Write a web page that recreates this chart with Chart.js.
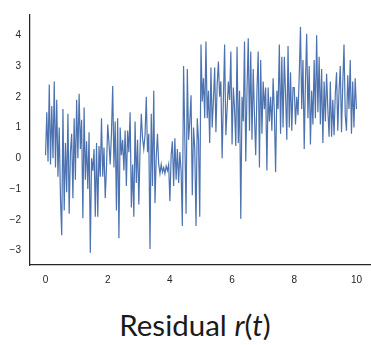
<!DOCTYPE html>
<html>
<head>
<meta charset="utf-8">
<script src="https://cdn.jsdelivr.net/npm/chart.js@4.4.1/dist/chart.umd.min.js"></script>
<style>
    html, body { margin: 0; padding: 0; background: #fff; }
    #wrap { position: relative; width: 371px; height: 345px; overflow: hidden; }
    #residualChart { position: absolute; left: 0; top: 0; }
    #caption {
        position: absolute; left: 45px; width: 300px; top: 308px;
        text-align: center; font-family: 'Lato', sans-serif; font-size: 29.5px;
        color: #1a1a1a; white-space: nowrap; line-height: 34px;
    }
    #caption i { font-style: italic; }
</style>
</head>
<body>
<div id="wrap">
    <canvas id="residualChart" width="371" height="290"></canvas>
    <div id="caption">Residual <i>r</i>(<i>t</i>)</div>
</div>
<script>
// sample spacing of the residual series (t runs from 0 to 10)
const tStep = 0.04;

// residual r(t), one row per unit of t
const residual = [
    0.1, 1.5, -0.1, 2.4, -0.2, 1.7, 0.0, 2.5, -0.3, 1.9, -0.6, 1.0, -1.3, -2.5, 1.6, -1.7, 0.5, -1.1, 1.45, -1.8, 0.2, 0.8, -1.3, 1.3, -0.7,
    1.9, 0.0, 2.1, 0.3, 1.25, -1.95, 1.65, -0.7, 0.55, -1.0, 0.85, -3.07, 0.0, -0.4, 0.3, -1.9, 0.5, -1.9, 0.4, -0.6, 1.3, -0.6, 0.35, -1.3, -0.3,
    1.1, 0.5, -0.2, 0.8, 2.35, -0.3, 1.2, -1.7, 1.3, -2.6, 1.0, 0.1, 0.6, -0.4, 0.9, -0.9, 0.9, 0.2, 1.5, -1.6, -0.2, -1.9, 1.2, -0.8, 0.6,
    -1.5, 0.3, 1.45, 0.65, 0.3, 0.75, 2.0, 0.2, 0.8, -2.95, 1.45, -0.9, 2.2, -1.45, 0.0, 0.8, -0.2, -0.5, -0.2, -0.45, -0.3, -0.5, -0.25, -0.4, -0.2,
    -1.4, 0.1, 0.55, -0.9, 0.65, -0.7, 0.3, -0.8, 0.2, -0.4, -2.2, 3.0, 0.6, -1.8, 2.9, 0.6, 1.2, 2.05, -1.2, 1.0, 0.3, -2.2, 1.3, 0.6, -1.9,
    3.7, 1.85, 2.6, 1.3, 3.8, 1.3, 2.2, 0.5, 2.95, 1.0, 1.9, 2.95, 0.85, 2.4, 3.15, 2.0, 2.5, 0.0, 1.9, 3.7, 0.75, 1.6, 2.5, 1.9, 3.47,
    0.45, 2.3, 1.6, 0.4, 3.63, 0.5, 2.2, -1.97, 2.0, 1.2, 3.8, -0.1, 2.2, 3.9, 0.9, 3.47, 0.6, 2.9, 1.4, 0.1, 2.2, 3.47, -0.3, 3.2, 0.8,
    2.5, 1.6, 2.3, -0.4, 2.3, 1.2, 2.0, 0.9, 2.6, 1.5, -0.45, 2.2, 1.6, 3.7, 0.8, 3.3, 1.0, 3.3, 2.1, 0.6, 3.65, 1.0, 2.8, 0.9, 2.3,
    2.3, 1.1, 2.0, 1.4, 2.7, 4.27, 1.6, 3.2, 0.3, 2.5, 4.05, 1.3, 3.0, 0.45, 2.2, 1.1, 3.2, 1.3, 4.0, 1.5, 3.3, 1.1, 2.9, 0.5, 2.5,
    1.2, 2.75, 1.6, 0.7, 2.5, 0.7, 1.9, 0.75, 2.1, 2.8, 0.9, 2.2, 3.0, 0.85, 2.4, 3.7, 1.4, 0.9, 2.7, 1.6, 3.2, 0.8, 2.5, 1.0, 2.6,
    1.6
];

const xTicks = [0, 2, 4, 6, 8, 10];
const yTicks = [-3, -2, -1, 0, 1, 2, 3, 4];

const points = residual.map((v, i) => ({ x: +(i * tStep).toFixed(2), y: v }));

const tickFont = { family: "'Liberation Sans', Arial, sans-serif", size: 10 };
const axisColor = '#262626';
const fmt = v => String(v).replace('-', '\u2212');

const ctx = document.getElementById('residualChart').getContext('2d');
const chart = new Chart(ctx, {
    type: 'line',
    data: {
        datasets: [{
            data: points,
            borderColor: '#4c72b0',
            borderWidth: 1.2,
            pointRadius: 0,
            tension: 0,
            fill: false
        }]
    },
    options: {
        responsive: false,
        animation: false,
        layout: { padding: { top: 10, left: 0, right: 0, bottom: 0 } },
        plugins: {
            legend: { display: false },
            tooltip: { enabled: false }
        },
        scales: {
            x: {
                type: 'linear',
                min: -0.5,
                max: 10.45,
                grid: { display: false, drawTicks: false },
                border: { display: true, color: axisColor, width: 1.25 },
                afterBuildTicks: s => { s.ticks = xTicks.map(v => ({ value: v })); },
                afterFit: s => { s.height = 25; },
                ticks: { color: axisColor, font: tickFont, padding: 9, maxRotation: 0, callback: fmt }
            },
            y: {
                min: -3.47,
                max: 4.66,
                grid: { display: false, drawTicks: false },
                border: { display: true, color: axisColor, width: 1.25 },
                afterBuildTicks: s => { s.ticks = yTicks.map(v => ({ value: v })); },
                afterFit: s => { s.width = 30; },
                ticks: { color: axisColor, font: tickFont, padding: 9, callback: fmt }
            }
        }
    }
});
</script>
</body>
</html>
